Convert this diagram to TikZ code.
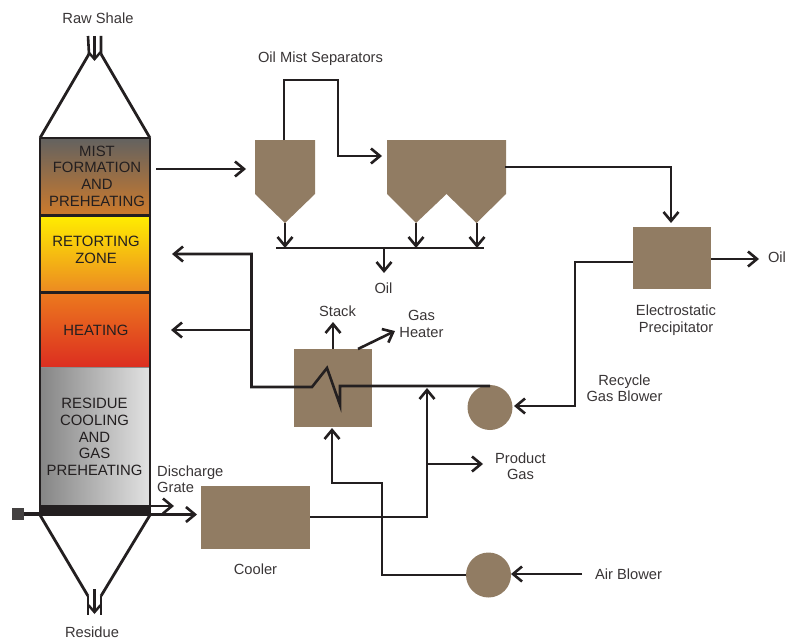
\documentclass[tikz,border=0pt]{standalone}
\usepackage{fontspec}
\setmainfont{Liberation Sans}
\usetikzlibrary{arrows.meta}
\definecolor{brownbox}{HTML}{917C63}
\definecolor{ink}{HTML}{231F20}
\definecolor{mistA}{HTML}{636260}
\definecolor{mistB}{HTML}{CC7A2C}
\definecolor{retA}{HTML}{FFEE00}
\definecolor{retB}{HTML}{EC8A22}
\definecolor{heatA}{HTML}{EC7A1E}
\definecolor{heatB}{HTML}{DC2E20}
\definecolor{resA}{HTML}{858585}
\definecolor{resB}{HTML}{E2E2E2}
\tikzset{
  flow/.style={draw=ink,line width=2.6pt,line join=miter},
  arr/.style={flow,-{Straight Barb[length=9pt,width=15pt,line width=2.6pt]}},
  lab/.style={inner sep=0pt,text=ink!90,font=\fontsize{14.7}{16.4}\selectfont,align=center},
  zone/.style={inner sep=0pt,text=ink,font=\fontsize{14.9}{16.7}\selectfont,align=center},
  box/.style={fill=brownbox,draw=none,inner sep=0pt,outer sep=0pt},
  blower/.style={box,circle,minimum size=45pt},
  wall/.style={draw=ink,line width=2.8pt},
  smallarr/.style={flow,-{Straight Barb[length=7pt,width=12pt,line width=2.4pt]}},
}
\begin{document}
\begin{tikzpicture}[x=1pt,y=-1pt]
\useasboundingbox (0,0) rectangle (787,642);
% retort zones
\shade[top color=mistA,bottom color=mistB] (40,138) rectangle (150,215);
\shade[top color=retA,bottom color=retB] (40,215) rectangle (150,292);
\shade[top color=heatA,middle color=heatA!85!heatB,bottom color=heatB] (40,292) rectangle (150,367);
\shade[left color=resA,right color=resB] (40,367) rectangle (150,505);
% coordinates of the retort
\coordinate (tl) at (40,138); \coordinate (tr) at (150,138);
\coordinate (bl) at (40,515); \coordinate (br) at (150,515);
\coordinate (hl) at (89,54); \coordinate (hr) at (101,54);
\coordinate (fl) at (88,596); \coordinate (fr) at (101,596);
\draw[wall] (tl) -- (bl) (tr) -- (br) (tl) -- (tr);
\draw[wall,line width=3pt] (40,215) -- (150,215) (40,292) -- (150,292);
\draw[draw=black!45,line width=1pt] (41,367) -- (149,367);
\fill[ink] (39,505) rectangle (151,516);
\draw[wall] (hl) -- (tl) (hr) -- (tr);
\draw[wall] (bl) -- (fl) (br) -- (fr);
% feed and discharge pipes
\coordinate (in1) at (88,36); \coordinate (in2) at (94.5,36); \coordinate (in3) at (101,36);
\coordinate (in2e) at (94.5,61);
\draw[flow] (in1) -- (hl) (in3) -- (hr);
\draw[smallarr] (in2) -- (in2e);
\coordinate (out1) at (88,615); \coordinate (out3) at (101,615);
\coordinate (out2) at (94.5,589); \coordinate (out2e) at (94.5,614);
\draw[flow] (fl) -- (out1) (fr) -- (out3);
\draw[smallarr] (out2) -- (out2e);
% grate
\node[fill=ink!85,minimum size=12pt,inner sep=0pt] (rod) at (17.5,514) {};
\draw[ink,line width=4pt] (rod.east) -- (40,514);
% process boxes
\fill[brownbox] (255,140) -- (315,140) -- (315,194) -- (285,223) -- (255,194) -- cycle;
\fill[brownbox] (387,140) -- (506,140) -- (506,194) -- (476.5,223) -- (446.5,194) -- (416,223) -- (387,194) -- cycle;
\node[box,minimum width=78pt,minimum height=62pt] (ep) at (672,258) {};
\node[box,minimum width=78pt,minimum height=78pt] (hx) at (333,387.5) {};
\node[box,minimum width=109pt,minimum height=63pt] (cooler) at (255.5,517.5) {};
\node[blower] (rb) at (490,407.5) {};
\node[blower] (ab) at (488.5,575) {};
% process routes
\coordinate (a0) at (156,169); \coordinate (a1) at (246,169);
\draw[arr] (a0) -- (a1);
\coordinate (s1t) at (284,140); \coordinate (s1u) at (284,80); \coordinate (s2u) at (338,80); \coordinate (s2d) at (338,156); \coordinate (s2i) at (382,156);
\draw[arr] (s1t) -- (s1u) -- (s2u) -- (s2d) -- (s2i);
\coordinate (s2o) at (505,167); \coordinate (s2c) at (671,167); \coordinate (epi) at (671,223);
\draw[arr] (s2o) -- (s2c) -- (epi);
\coordinate (cl) at (276,248); \coordinate (cr) at (484,248);
\draw[flow] (cl) -- (cr);
\coordinate (d1) at (285,223); \coordinate (d1e) at (285,248);
\coordinate (d2) at (416,223); \coordinate (d2e) at (416,248);
\coordinate (d3) at (477,223); \coordinate (d3e) at (477,248);
\coordinate (d4) at (384,248); \coordinate (d4e) at (384,273);
\draw[arr] (d1) -- (d1e);
\draw[arr] (d2) -- (d2e);
\draw[arr] (d3) -- (d3e);
\draw[arr] (d4) -- (d4e);
\coordinate (oe) at (759,259);
\draw[arr] (ep.east |- oe) -- (oe);
\coordinate (r1) at (575,262); \coordinate (r2) at (575,406); \coordinate (r3) at (514,406);
\draw[arr] (ep.west |- r1) -- (r1) -- (r2) -- (r3);
\coordinate (c0) at (490,386); \coordinate (c1) at (340,386); \coordinate (c2) at (340,405); \coordinate (c3) at (327,368); \coordinate (c4) at (312,387); \coordinate (c5) at (251.5,387); \coordinate (c6) at (251.5,254); \coordinate (c7) at (172,254);
\draw[arr] (c0) -- (c1) -- (c2) -- (c3) -- (c4) -- (c5) -- (c6) -- (c7);
\coordinate (b0) at (251.5,330); \coordinate (b1) at (171,330);
\draw[arr] (b0) -- (b1);
\coordinate (st) at (333,322);
\draw[arr] (hx.north) -- (st);
\coordinate (g0) at (358,349); \coordinate (g1) at (395,331);
\draw[arr] (g0) -- (g1);
\coordinate (k1) at (427,517); \coordinate (k2) at (427,388);
\draw[arr] (cooler.east |- k1) -- (k1) -- (k2);
\coordinate (p0) at (427,464); \coordinate (p1) at (483,464);
\draw[arr] (p0) -- (p1);
\coordinate (air) at (582,574);
\draw[arr] (air) -- (ab.east |- air);
\coordinate (m1) at (382,575); \coordinate (m2) at (382,483); \coordinate (m3) at (332,483); \coordinate (m4) at (332,428);
\draw[arr] (ab.west) -- (m1) -- (m2) -- (m3) -- (m4);
\coordinate (g2) at (174,506);
\draw[arr] (br |- g2) -- (g2);
\coordinate (g3) at (197,514.5);
\draw[arr] (br |- g3) -- (g3);
% labels
\node[lab] (t1) at (98,18) {Raw Shale};
\node[lab] (t2) at (320.5,58.5) {Oil Mist Separators};
\node[lab] (t3) at (383.5,288.5) {Oil};
\node[lab] (t4) at (777,257.5) {Oil};
\node[lab] (t5) at (337.5,311) {Stack};
\node[lab] (t6) at (421.5,324) {Gas\\Heater};
\node[lab] (t7) at (676,320) {Electrostatic\\Precipitator};
\node[lab] (t8) at (624.5,388) {Recycle\\Gas Blower};
\node[lab] (t9) at (520.5,466) {Product\\Gas};
\node[lab,align=left,anchor=west] (t10) at (157,479) {Discharge\\Grate};
\node[lab] (t11) at (255.5,569) {Cooler};
\node[lab] (t12) at (628.5,574.5) {Air Blower};
\node[lab] (t13) at (92,632.5) {Residue};
\node[zone] (z1) at (97,176) {MIST\\FORMATION\\AND\\PREHEATING};
\node[zone] (z2) at (96,250) {RETORTING\\ZONE};
\node[zone] (z3) at (96,330) {HEATING};
\node[zone] (z4) at (94.5,437) {RESIDUE\\COOLING\\AND\\GAS\\PREHEATING};
\end{tikzpicture}
\end{document}
